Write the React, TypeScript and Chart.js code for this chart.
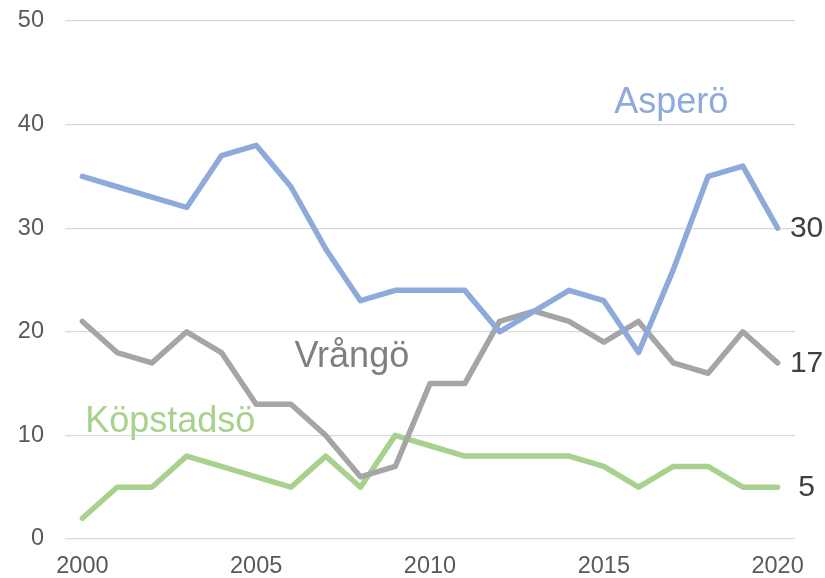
import React, { useEffect, useRef } from "react";
import { Chart, registerables } from "chart.js";

Chart.register(...registerables);

const years = [
  "2000", "2001", "2002", "2003", "2004", "2005", "2006", "2007", "2008", "2009", "2010",
  "2011", "2012", "2013", "2014", "2015", "2016", "2017", "2018", "2019", "2020",
];
const aspero = [35, 34, 33, 32, 37, 38, 34, 28, 23, 24, 24, 24, 20, 22, 24, 23, 18, 26, 35, 36, 30];
const vrango = [21, 18, 17, 20, 18, 13, 13, 10, 6, 7, 15, 15, 21, 22, 21, 19, 21, 17, 16, 20, 17];
const kopstadso = [2, 5, 5, 8, 7, 6, 5, 8, 5, 10, 9, 8, 8, 8, 8, 7, 5, 7, 7, 5, 5];
const seriesNames = ["Asperö", "Vrångö", "Köpstadsö"];
const yTicks = [0, 10, 20, 30, 40, 50];

const FONT = "'Liberation Sans', Arial, sans-serif";
const colors = ["#8eaadb", "#a5a5a5", "#a9d18e"];
const nameColors = ["#8eaadb", "#7f7f7f", "#a9d18e"];
// name label anchors in data space (category index, value)
const nameAnchors = [
  { index: 15.3, value: 41.1 },
  { index: 6.1, value: 16.6 },
  { index: 0.08, value: 10.3 },
];

const labelPlugin = {
  id: "seriesLabels",
  afterDatasetsDraw(chart: any) {
    const ctx = chart.ctx;
    const xs = chart.scales.x;
    const ys = chart.scales.y;
    ctx.save();
    ctx.font = `36px ${FONT}`;
    ctx.textAlign = "left";
    ctx.textBaseline = "alphabetic";
    nameAnchors.forEach((a, i) => {
      ctx.fillStyle = nameColors[i];
      ctx.fillText(seriesNames[i], xs.getPixelForValue(a.index), ys.getPixelForValue(a.value));
    });
    ctx.font = `30px ${FONT}`;
    ctx.fillStyle = "#404040";
    ctx.textAlign = "center";
    ctx.textBaseline = "middle";
    chart.data.datasets.forEach((ds: any) => {
      const last = ds.data.length - 1;
      const v = ds.data[last];
      const px = xs.getPixelForValue(last) + 29;
      const py = ys.getPixelForValue(v) + 1;
      ctx.fillText(String(v), px, py);
    });
    ctx.restore();
  },
};

export default function App() {
  const ref = useRef<HTMLCanvasElement | null>(null);
  useEffect(() => {
    if (!ref.current) return;
    const series = [aspero, vrango, kopstadso];
    const chart = new Chart(ref.current, {
      type: "line",
      data: {
        labels: years,
        datasets: series.map((d, i) => ({
          label: seriesNames[i],
          data: d,
          borderColor: colors[i],
          backgroundColor: colors[i],
          borderWidth: 5.5,
          pointRadius: 0,
          tension: 0,
          borderJoinStyle: "round" as const,
          borderCapStyle: "round" as const,
        })),
      },
      options: {
        animation: false,
        responsive: false,
        maintainAspectRatio: false,
        layout: { padding: { left: 0, right: 30, top: 21, bottom: 0 } },
        plugins: { legend: { display: false }, tooltip: { enabled: false } },
        scales: {
          x: {
            type: "category",
            offset: true,
            grid: { display: false, drawTicks: false },
            border: { display: false },
            ticks: {
              autoSkip: false,
              maxRotation: 0,
              padding: 13,
              color: "#595959",
              font: { family: FONT, size: 23.5 },
              callback: (_v: any, i: number) => (Number(years[i]) % 5 === 0 ? years[i] : ""),
            },
            afterFit: (s: any) => {
              s.height = 39;
            },
          },
          y: {
            min: 0,
            max: 50,
            grid: { color: "#d9d9d9", lineWidth: 1.2, drawTicks: false },
            border: { display: false },
            afterBuildTicks: (s: any) => {
              s.ticks = yTicks.map((v) => ({ value: v }));
            },
            ticks: {
              padding: 21,
              color: "#595959",
              font: { family: FONT, size: 23.5 },
            },
            afterFit: (s: any) => {
              s.width = 65;
              s.paddingTop = 0;
              s.paddingBottom = 0;
            },
          },
        },
      },
      plugins: [labelPlugin],
    });
    return () => chart.destroy();
  }, []);
  return (
    <div style={{ position: "absolute", left: 0, top: 0, width: 825, height: 578 }}>
      <canvas ref={ref} width={825} height={578} style={{ width: 825, height: 578, display: "block" }} />
    </div>
  );
}
